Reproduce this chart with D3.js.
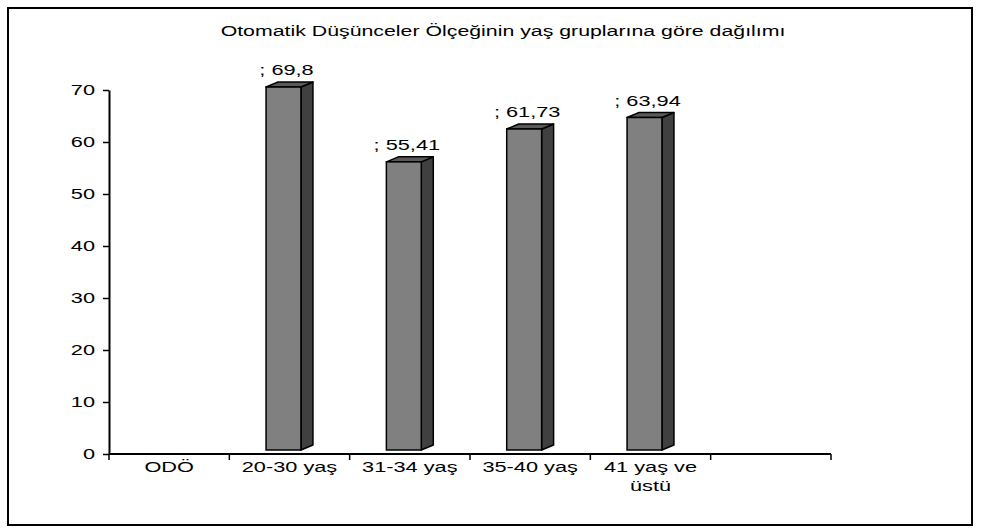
<!DOCTYPE html>
<html>
<head>
<meta charset="utf-8">
<script src="https://cdn.jsdelivr.net/npm/d3@7"></script>
<style>
  body { margin: 0; background: #fff; }
  text { font-family: "Liberation Sans", Arial, sans-serif; fill: #000; }
</style>
</head>
<body>
<div id="chart"></div>
<script>
// chart data
let categories = ["ODÖ", "20-30 yaş", "31-34 yaş", "35-40 yaş", "41 yaş ve üstü", ""];
let values = [null, 69.8, 55.41, 61.73, 63.94, null];
let yTicks = [0, 10, 20, 30, 40, 50, 60, 70];
let title = "Otomatik Düşünceler Ölçeğinin yaş gruplarına göre dağılımı";

let width = 981;
let height = 529;
// the original picture has its text stretched sideways
let stretch = 1.45;

let svg = d3.select("#chart")
  .append("svg")
  .attr("width", width)
  .attr("height", height);

function wideText(parent, px, py, size, anchor) {
  return parent.append("text")
    .attr("transform", "translate(" + px + "," + py + ") scale(" + stretch + ",1)")
    .attr("text-anchor", anchor)
    .attr("font-size", size);
}

// outer frame
svg.append("rect")
  .attr("x", 8)
  .attr("y", 8)
  .attr("width", 964)
  .attr("height", 517)
  .attr("fill", "none")
  .attr("stroke", "#000")
  .attr("stroke-width", 2);

// title
wideText(svg, 503, 36, 14.7, "middle").text(title);

// scales
let x = d3.scaleBand()
  .domain(categories)
  .range([109, 831]);

let y = d3.scaleLinear()
  .domain([0, 70])
  .range([454, 90]);

// y axis
let yAxis = d3.axisLeft(y)
  .tickValues(yTicks)
  .tickSize(6)
  .tickSizeOuter(0)
  .tickPadding(8);

let yG = svg.append("g")
  .attr("transform", "translate(109,0)")
  .call(yAxis);
yG.select(".domain").attr("stroke-width", 2);
yG.selectAll(".tick line").attr("stroke-width", 1.5);
yG.selectAll(".tick text")
  .attr("x", 0)
  .attr("transform", "translate(-14,0) scale(" + stretch + ",1)")
  .attr("font-size", 15)
  .attr("font-family", "Liberation Sans, Arial, sans-serif");

// x axis line and tick marks at band edges
let xG = svg.append("g");
xG.append("line")
  .attr("x1", x.range()[0])
  .attr("x2", x.range()[1])
  .attr("y1", y(0))
  .attr("y2", y(0))
  .attr("stroke", "#000")
  .attr("stroke-width", 2);

let edges = categories.map(function(c) { return x(c); }).concat([x.range()[1]]);
xG.selectAll(".xtick")
  .data(edges)
  .enter()
  .append("line")
  .attr("class", "xtick")
  .attr("x1", function(d) { return d; })
  .attr("x2", function(d) { return d; })
  .attr("y1", y(0))
  .attr("y2", y(0) + 6)
  .attr("stroke", "#000")
  .attr("stroke-width", 1.5);

// category labels, wrapped when too long
categories.forEach(function(c) {
  let lines = c === "41 yaş ve üstü" ? ["41 yaş ve", "üstü"] : [c];
  let t = wideText(svg, x(c) + x.bandwidth() / 2, y(0) + 18, 15, "middle");
  lines.forEach(function(l, i) {
    t.append("tspan")
      .attr("x", 0)
      .attr("dy", i === 0 ? 0 : 19)
      .text(l);
  });
});

// 3D columns
let barW = x.bandwidth() * 0.29;
let depthX = 12;
let depthY = 5;
let lift = 4;
let barOff = (x.bandwidth() - barW - depthX) / 2;

let data = categories.map(function(c, i) { return { cat: c, val: values[i] }; })
  .filter(function(d) { return d.val !== null; });

let bars = svg.selectAll(".bar")
  .data(data)
  .enter()
  .append("g")
  .attr("class", "bar");

function fx(d) { return x(d.cat) + barOff; }
function ftop(d) { return y(d.val) - lift; }
let fbot = y(0) - lift;

// side face
bars.append("path")
  .attr("d", function(d) {
    let x0 = fx(d) + barW;
    return "M" + x0 + "," + ftop(d) +
      "L" + (x0 + depthX) + "," + (ftop(d) - depthY) +
      "L" + (x0 + depthX) + "," + (fbot - depthY) +
      "L" + x0 + "," + fbot + "Z";
  })
  .attr("fill", "#404040")
  .attr("stroke", "#000")
  .attr("stroke-width", 1.5)
  .attr("stroke-linejoin", "round");

// top face
bars.append("path")
  .attr("d", function(d) {
    let x0 = fx(d);
    return "M" + x0 + "," + ftop(d) +
      "L" + (x0 + depthX) + "," + (ftop(d) - depthY) +
      "L" + (x0 + barW + depthX) + "," + (ftop(d) - depthY) +
      "L" + (x0 + barW) + "," + ftop(d) + "Z";
  })
  .attr("fill", "#5a5a5a")
  .attr("stroke", "#000")
  .attr("stroke-width", 1.5)
  .attr("stroke-linejoin", "round");

// front face
bars.append("rect")
  .attr("x", fx)
  .attr("y", ftop)
  .attr("width", barW)
  .attr("height", function(d) { return fbot - ftop(d); })
  .attr("fill", "#808080")
  .attr("stroke", "#000")
  .attr("stroke-width", 1.5);

// value labels
bars.each(function(d) {
  wideText(d3.select(this), fx(d) + (barW + depthX) / 2 - 3, ftop(d) - depthY - 7, 15, "middle")
    .text("; " + String(d.val).replace(".", ","));
});
</script>
</body>
</html>
